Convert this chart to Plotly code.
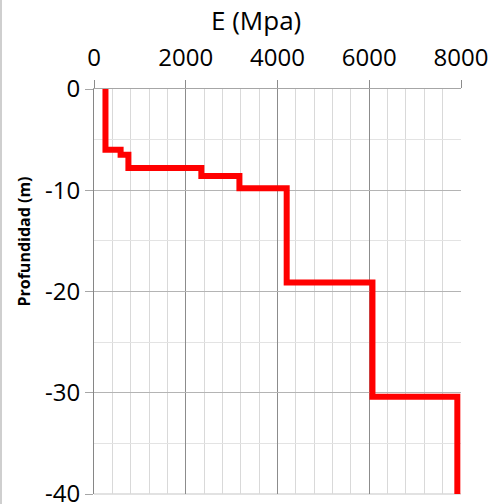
import plotly.graph_objects as go

# Layer moduli (MPa) and top depth of each layer (m)
E_mpa = [250, 580, 750, 2340, 3170, 4200, 6070, 7920]
top_depth = [0, -6, -6.5, -7.8, -8.6, -9.8, -19.1, -30.4]
bottom_depth = -40

x_ticks = [0, 2000, 4000, 6000, 8000]
x_tick_text = ["0", "2000", "4000", "6000", "8000"]
y_ticks = [0, -10, -20, -30, -40]
y_tick_text = ["0", "-10", "-20", "-30", "-40"]

x_vals = E_mpa + [E_mpa[-1]]
y_vals = top_depth + [bottom_depth]

FONT = "Open Sans"

fig = go.Figure()
fig.add_trace(go.Scatter(
    x=x_vals, y=y_vals, mode="lines", line_shape="vh",
    line=dict(color="#ff0000", width=6), showlegend=False, hoverinfo="skip",
))

fig.update_layout(
    width=491, height=504,
    margin=dict(l=94, r=30, t=89, b=10, autoexpand=False),
    paper_bgcolor="white", plot_bgcolor="white",
    font=dict(family=FONT, color="#000000"),
    xaxis=dict(
        side="top", range=[0, 8000], automargin=False,
        tickvals=x_ticks, ticktext=x_tick_text,
        ticks="outside", ticklen=8, tickcolor="#8c8c8c",
        tickfont=dict(size=24, family=FONT),
        ticklabelstandoff=4, ticklabeloverflow="allow",
        showgrid=True, gridcolor="#8c8c8c", gridwidth=1,
        showline=True, linecolor="#a6a6a6", linewidth=1,
        zeroline=False,
        minor=dict(dtick=400, tick0=0, showgrid=True, gridcolor="#d9d9d9", gridwidth=1),
        fixedrange=True,
    ),
    yaxis=dict(
        range=[-40, 0], automargin=False,
        tickvals=y_ticks, ticktext=y_tick_text,
        ticks="outside", ticklen=8, tickcolor="#a6a6a6",
        tickfont=dict(size=24, family=FONT),
        ticklabeloverflow="allow",
        showgrid=True, gridcolor="#b4b4b4", gridwidth=1,
        showline=True, linecolor="#868686", linewidth=1,
        zeroline=False,
        minor=dict(dtick=5, tick0=0, showgrid=True, gridcolor="#e3e3e3", gridwidth=1),
        fixedrange=True,
    ),
    annotations=[
        dict(text="E (Mpa)", xref="paper", yref="paper", x=0.441, y=1.17,
             xanchor="center", yanchor="middle", showarrow=False,
             font=dict(size=26, family=FONT, color="#000000")),
        dict(text="<b>Profundidad (m)</b>", xref="paper", yref="paper", x=-0.19, y=0.624,
             xanchor="center", yanchor="middle", showarrow=False, textangle=-90,
             font=dict(size=16, family=FONT, color="#000000")),
    ],
    shapes=[
        dict(type="line", xref="paper", yref="paper", x0=-0.2534, x1=-0.2534,
             y0=-0.1, y1=1.3, line=dict(color="#bfbfbf", width=1.5)),
        dict(type="line", xref="paper", yref="paper", x0=0, x1=1,
             y0=0, y1=0, line=dict(color="#d9d9d9", width=1.5), layer="below"),
    ],
)

fig.write_html("out.html", config={"displayModeBar": False},
               post_script="document.body.style.margin='0';")
